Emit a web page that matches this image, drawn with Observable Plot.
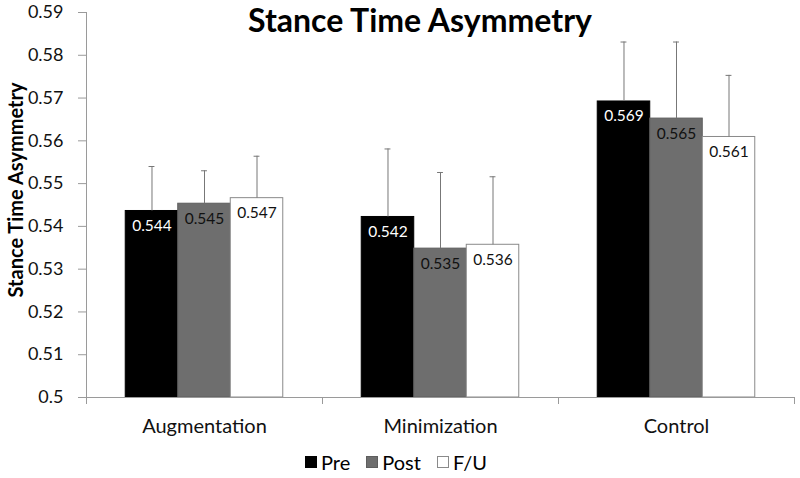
<!DOCTYPE html>
<html>
<head>
<meta charset="utf-8">
<script src="https://cdn.jsdelivr.net/npm/d3@7"></script>
<script src="https://cdn.jsdelivr.net/npm/@observablehq/plot@0.6"></script>
<style>
  html, body { margin: 0; padding: 0; background: #fff; }
  #wrap { position: relative; width: 800px; height: 478px; background: #fff; font-family: Lato, "Open Sans", sans-serif; overflow: hidden; }
  #title { position: absolute; left: 0; width: 840px; top: 0px; text-align: center; font-weight: bold; font-size: 32px; line-height: normal; color: #000; }
  #ylabel { position: absolute; left: 15px; top: 190px; transform: translate(-50%, -50%) rotate(-90deg); white-space: nowrap; font-weight: bold; font-size: 20px; color: #000; }
  #legend { display: flex; justify-content: center; align-items: center; gap: 16px; height: 32px; padding-top: 6px; font-size: 20px; color: #000; padding-right: 8px; }
  #legend .item { display: flex; align-items: center; gap: 4px; }
  #legend .sw { width: 12px; height: 12px; box-sizing: border-box; }
</style>
</head>
<body>
<div id="wrap">
  <div id="chart"></div>
  <div id="legend"></div>
  <div id="title">Stance Time Asymmetry</div>
  <div id="ylabel">Stance Time Asymmetry</div>
</div>
<script>
const groups = ["Augmentation", "Minimization", "Control"];
const phases = ["Pre", "Post", "F/U"];
const preMean  = [0.5436, 0.5422, 0.5692];
const postMean = [0.5453, 0.5348, 0.5652];
const fuMean   = [0.5466, 0.5357, 0.5609];
const preSD  = [0.0104, 0.0159, 0.0139];
const postSD = [0.0077, 0.0178, 0.0179];
const fuSD   = [0.0098, 0.0159, 0.0144];
const yTicks = [0.5, 0.51, 0.52, 0.53, 0.54, 0.55, 0.56, 0.57, 0.58, 0.59];

const phaseFill   = {"Pre": "#000000", "Post": "#6e6e6e", "F/U": "#ffffff"};
const phaseStroke = {"Pre": "#000000", "Post": "#5e5e5e", "F/U": "#8a8a8a"};
const phaseText   = {"Pre": "#ffffff", "Post": "#111111", "F/U": "#111111"};

// Excel-like clustered layout: each category occupies one unit; bars fill 2/3 of it
const barW = 0.2225;
const capHalf = 0.0125;

const meanBy = {"Pre": preMean, "Post": postMean, "F/U": fuMean};
const sdBy = {"Pre": preSD, "Post": postSD, "F/U": fuSD};
const rows = groups.flatMap((g, i) => phases.map((p, j) => {
  const x1 = i + (j - 1.5) * barW;
  return {group: g, phase: p, mean: meanBy[p][i], sd: sdBy[p][i], x1, x2: x1 + barW, xc: x1 + barW / 2};
}));
const fmt = d3.format(".3f");
const catTicks = groups.map((g, i) => i);
const boundTicks = [-0.5, ...groups.map((g, i) => i + 0.5)];

const chart = Plot.plot({
  width: 800,
  height: 440,
  marginLeft: 86,
  marginRight: 6,
  marginTop: 12,
  marginBottom: 43,
  style: {fontFamily: "Lato, 'Open Sans', sans-serif", fontSize: "16px", background: "white", color: "#000"},
  x: {domain: [-0.5, groups.length - 0.5], label: null},
  y: {domain: [0.5, 0.59], label: null},
  color: {type: "identity"},
  marks: [
    Plot.axisY({ticks: yTicks, tickFormat: d => String(d), tickSize: 8, tickPadding: 15, stroke: "#9a9a9a", fill: "#111", fontSize: 18, label: null}),
    Plot.axisX({ticks: catTicks, tickFormat: i => groups[i], tickSize: 0, tickPadding: 21, fontSize: 20, fill: "#111", label: null}),
    Plot.axisX({ticks: boundTicks, tickFormat: () => "", tickSize: 7, stroke: "#9a9a9a", label: null}),
    Plot.rectY(rows, {x1: "x1", x2: "x2", y1: 0.5, y2: "mean", fill: d => phaseFill[d.phase], stroke: d => phaseStroke[d.phase], strokeWidth: 1}),
    Plot.ruleX(rows, {x: "xc", y1: "mean", y2: d => d.mean + d.sd, stroke: "#777", strokeWidth: 1}),
    Plot.ruleY(rows, {x1: d => d.xc - capHalf, x2: d => d.xc + capHalf, y: d => d.mean + d.sd, stroke: "#777", strokeWidth: 1}),
    Plot.text(rows, {x: "xc", y: "mean", text: d => fmt(d.mean), dy: 15, fill: d => phaseText[d.phase], fontSize: 15.5}),
    Plot.ruleY([0.5], {stroke: "#9a9a9a"}),
    Plot.ruleX([-0.5], {stroke: "#9a9a9a"})
  ]
});
document.getElementById("chart").appendChild(chart);

const legend = d3.select("#legend");
phases.forEach(p => {
  const it = legend.append("div").attr("class", "item");
  it.append("div").attr("class", "sw").style("background", phaseFill[p]).style("border", "1px solid " + phaseStroke[p]);
  it.append("span").text(p);
});
</script>
</body>
</html>
